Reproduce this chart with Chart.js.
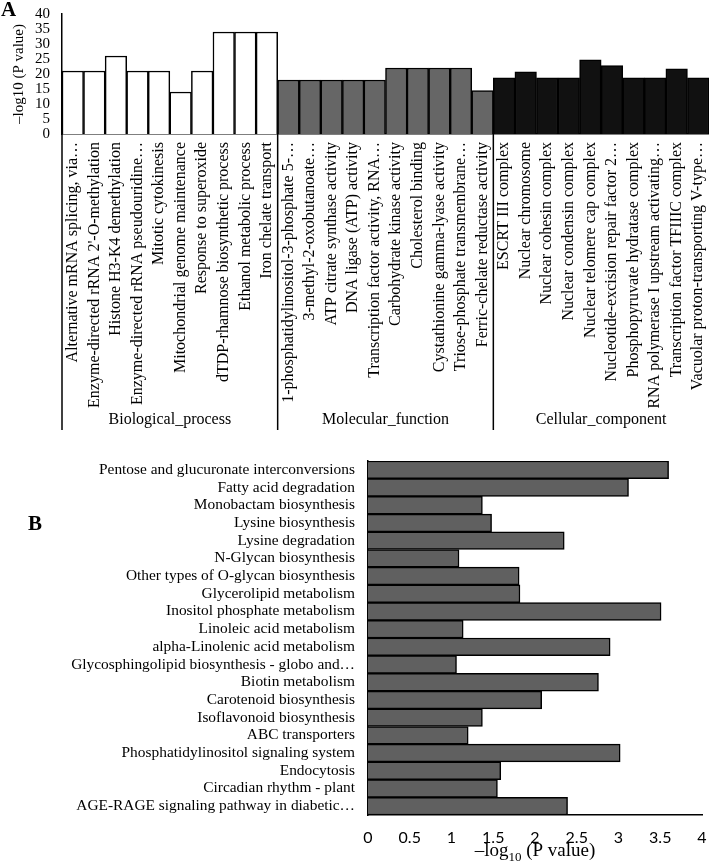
<!DOCTYPE html>
<html lang="en">
<head>
    <meta charset="UTF-8">
    <title>GO and KEGG enrichment</title>
    <script src="https://cdn.jsdelivr.net/npm/chart.js"></script>
    <style>
        body { margin: 0; background: #fff; }
        .wrap { position: relative; width: 709px; height: 861px; overflow: hidden; }
        canvas { position: absolute; left: 0; }
        .panel { position: absolute; font: bold 21px "Liberation Serif", serif; color: #000; }
    </style>
</head>
<body>
<div class="wrap">
    <canvas id="goChart" width="709" height="440" style="top:0"></canvas>
    <canvas id="keggChart" width="709" height="421" style="top:440px"></canvas>
    <div class="panel" style="left:1px; top:-3px;">A</div>
    <div class="panel" style="left:28px; top:511px;">B</div>
</div>

<script>
    // ---- panel A: GO terms ----
    const groupNames = ['Biological_process', 'Molecular_function', 'Cellular_component'];
    const groupColors = ['#ffffff', '#666666', '#111111'];

    const bpTerms = ['Alternative mRNA splicing, via…', "Enzyme-directed rRNA 2'-O-methylation", 'Histone H3-K4 demethylation',
        'Enzyme-directed rRNA pseudouridine…', 'Mitotic cytokinesis', 'Mitochondrial genome maintenance',
        'Response to superoxide', 'dTDP-rhamnose biosynthetic process', 'Ethanol metabolic process', 'Iron chelate transport'];
    const bpValues = [21, 21, 26, 21, 21, 14, 21, 34, 34, 34];

    const mfTerms = ['1-phosphatidylinositol-3-phosphate 5-…', '3-methyl-2-oxobutanoate…', 'ATP citrate synthase activity',
        'DNA ligase (ATP) activity', 'Transcription factor activity, RNA…', 'Carbohydrate kinase activity',
        'Cholesterol binding', 'Cystathionine gamma-lyase activity', 'Triose-phosphate transmembrane…', 'Ferric-chelate reductase activity'];
    const mfValues = [18, 18, 18, 18, 18, 22, 22, 22, 22, 14.5];

    const ccTerms = ['ESCRT III complex', 'Nuclear chromosome', 'Nuclear cohesin complex', 'Nuclear condensin complex',
        'Nuclear telomere cap complex', 'Nucleotide-excision repair factor 2…', 'Phosphopyruvate hydratase complex',
        'RNA polymerase I upstream activating…', 'Transcription factor TFIIIC complex', 'Vacuolar proton-transporting V-type…'];
    const ccValues = [18.7, 20.7, 18.7, 18.7, 24.7, 22.8, 18.7, 18.7, 21.7, 18.7];

    // ---- panel B: KEGG pathways ----
    const keggTerms = ['Pentose and glucuronate interconversions', 'Fatty acid degradation', 'Monobactam biosynthesis',
        'Lysine biosynthesis', 'Lysine degradation', 'N-Glycan biosynthesis', 'Other types of O-glycan biosynthesis',
        'Glycerolipid metabolism', 'Inositol phosphate metabolism', 'Linoleic acid metabolism', 'alpha-Linolenic acid metabolism',
        'Glycosphingolipid biosynthesis - globo and…', 'Biotin metabolism', 'Carotenoid biosynthesis', 'Isoflavonoid biosynthesis',
        'ABC transporters', 'Phosphatidylinositol signaling system', 'Endocytosis', 'Circadian rhythm - plant',
        'AGE-RAGE signaling pathway in diabetic…'];
    const keggValues = [3.6, 3.12, 1.37, 1.48, 2.35, 1.09, 1.81, 1.82, 3.51, 1.14, 2.9, 1.06, 2.76, 2.08, 1.37, 1.2, 3.02, 1.59, 1.55, 2.39];

    const serif = '"Liberation Serif", "Times New Roman", serif';

    const groups = [bpTerms, mfTerms, ccTerms];
    const goLabels = bpTerms.concat(mfTerms, ccTerms);
    const goValues = bpValues.concat(mfValues, ccValues);
    const goColors = [];
    groups.forEach((g, i) => g.forEach(() => goColors.push(groupColors[i])));

    // group captions + separator lines under the rotated labels
    const goGroups = {
        id: 'goGroups',
        afterDraw(chart) {
            const ctx = chart.ctx;
            const x = chart.scales.x;
            const area = chart.chartArea;
            const lineBottom = 430;
            ctx.save();
            ctx.strokeStyle = '#000';
            ctx.lineWidth = 1.5;
            let start = 0;
            const seps = [area.left];
            groups.forEach((g, i) => {
                const end = start + g.length - 1;
                if (i > 0) {
                    seps.push((x.getPixelForTick(start - 1) + x.getPixelForTick(start)) / 2);
                }
                const cx = (x.getPixelForTick(start) + x.getPixelForTick(end)) / 2;
                ctx.fillStyle = '#000';
                ctx.font = '16px ' + serif;
                ctx.textAlign = 'center';
                ctx.textBaseline = 'middle';
                ctx.fillText(groupNames[i], cx, 420);
                start = end + 1;
            });
            seps.forEach(px => {
                ctx.beginPath();
                ctx.moveTo(px, area.bottom);
                ctx.lineTo(px, lineBottom);
                ctx.stroke();
            });
            ctx.restore();
        }
    };

    new Chart(document.getElementById('goChart'), {
        type: 'bar',
        data: {
            labels: goLabels,
            datasets: [{
                data: goValues,
                backgroundColor: goColors,
                borderColor: '#000',
                borderWidth: 1.5,
                barPercentage: 1,
                categoryPercentage: 1
            }]
        },
        options: {
            responsive: false,
            animation: false,
            layout: { padding: { top: 14, right: 0, bottom: 0, left: 0 } },
            plugins: { legend: { display: false }, tooltip: { enabled: false } },
            scales: {
                x: {
                    grid: { display: false, drawTicks: false },
                    border: { color: '#000', width: 1.5 },
                    ticks: {
                        autoSkip: false,
                        minRotation: 90,
                        maxRotation: 90,
                        padding: 8,
                        color: '#000',
                        font: { family: serif, size: 16 }
                    },
                    afterFit(scale) {
                        scale.height = 306;
                        scale.paddingLeft = 0;
                        scale.paddingRight = 0;
                    }
                },
                y: {
                    min: 0,
                    max: 40,
                    grid: { display: false, drawTicks: false },
                    border: { color: '#000', width: 1.5 },
                    ticks: {
                        autoSkip: false,
                        stepSize: 5,
                        padding: 12,
                        color: '#000',
                        font: { family: serif, size: 15 }
                    },
                    title: {
                        display: true,
                        text: '–log10 (P value)',
                        color: '#000',
                        font: { family: serif, size: 15 },
                        padding: { top: 10, bottom: 0 }
                    },
                    afterFit(scale) {
                        scale.width = 62;
                        scale.paddingTop = 0;
                        scale.paddingBottom = 0;
                    }
                }
            }
        },
        plugins: [goGroups]
    });

    // x axis title with a subscript for panel B
    const keggTitle = {
        id: 'keggTitle',
        afterDraw(chart) {
            const ctx = chart.ctx;
            const area = chart.chartArea;
            const y = 416;
            const parts = [
                { t: '–log', f: '19px ' + serif, dy: 0 },
                { t: '10', f: '13px ' + serif, dy: 5 },
                { t: ' (P value)', f: '19px ' + serif, dy: 0 }
            ];
            ctx.save();
            ctx.fillStyle = '#000';
            ctx.textBaseline = 'alphabetic';
            ctx.textAlign = 'left';
            let total = 0;
            parts.forEach(p => { ctx.font = p.f; p.w = ctx.measureText(p.t).width; total += p.w; });
            let px = (area.left + area.right) / 2 - total / 2;
            parts.forEach(p => {
                ctx.font = p.f;
                ctx.fillText(p.t, px, y + p.dy);
                px += p.w;
            });
            ctx.restore();
        }
    };

    new Chart(document.getElementById('keggChart'), {
        type: 'bar',
        data: {
            labels: keggTerms,
            datasets: [{
                data: keggValues,
                backgroundColor: '#606060',
                borderColor: '#000',
                borderWidth: 1.5,
                barPercentage: 1,
                categoryPercentage: 1
            }]
        },
        options: {
            indexAxis: 'y',
            responsive: false,
            animation: false,
            layout: { padding: { top: 21, right: 7, bottom: 0, left: 0 } },
            plugins: { legend: { display: false }, tooltip: { enabled: false } },
            scales: {
                x: {
                    min: 0,
                    max: 4,
                    grid: { display: false, drawTicks: false },
                    border: { color: '#000', width: 1.5 },
                    ticks: {
                        stepSize: 0.5,
                        padding: 13,
                        color: '#000',
                        font: { family: 'Lato, "Open Sans", sans-serif', size: 16 },
                        callback: (v) => String(Math.round(v * 10) / 10)
                    },
                    afterFit(scale) {
                        scale.height = 46;
                        scale.paddingLeft = 0;
                        scale.paddingRight = 0;
                    }
                },
                y: {
                    grid: { display: false, drawTicks: false },
                    border: { color: '#000', width: 1.5 },
                    ticks: {
                        autoSkip: false,
                        padding: 13,
                        color: '#000',
                        font: { family: serif, size: 15.4 }
                    },
                    afterFit(scale) {
                        scale.width = 368;
                        scale.paddingTop = 0;
                        scale.paddingBottom = 0;
                    }
                }
            }
        },
        plugins: [keggTitle]
    });
</script>
</body>
</html>
